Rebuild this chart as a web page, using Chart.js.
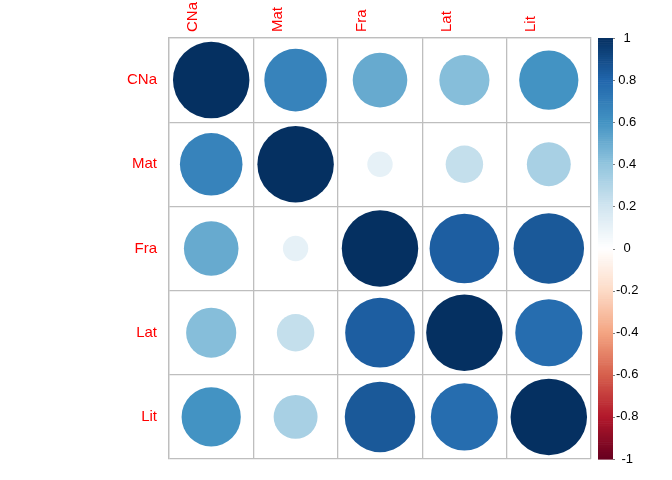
<!DOCTYPE html>
<html>
<head>
<meta charset="utf-8">
<script src="https://cdn.jsdelivr.net/npm/chart.js@4/dist/chart.umd.min.js"></script>
<style>
  html, body { margin: 0; padding: 0; background: #fff; }
</style>
</head>
<body>
<canvas id="corrPlot" width="672" height="480"></canvas>
<script>
/* --------------- Variables and correlations --------------------- */
const vars = ["CNa", "Mat", "Fra", "Lat", "Lit"];
const rowCNa = [1.00, 0.67, 0.51, 0.43, 0.60];
const rowMat = [0.67, 1.00, 0.11, 0.24, 0.33];
const rowFra = [0.51, 0.11, 1.00, 0.83, 0.85];
const rowLat = [0.43, 0.24, 0.83, 1.00, 0.77];
const rowLit = [0.60, 0.33, 0.85, 0.77, 1.00];
const corrRows = [rowCNa, rowMat, rowFra, rowLat, rowLit];
/* --------------- Colour legend ticks --------------------- */
const cbTicks = [-1, -0.8, -0.6, -0.4, -0.2, 0, 0.2, 0.4, 0.6, 0.8, 1];
/* --------------- RdBu palette (red = -1, blue = +1) --------------------- */
const rdbu = ["#67001F", "#B2182B", "#D6604D", "#F4A582", "#FDDBC7", "#FFFFFF",
              "#D1E5F0", "#92C5DE", "#4393C3", "#2166AC", "#053061"];

const hexToRgb = (h) => [1, 3, 5].map((i) => parseInt(h.substr(i, 2), 16));
const corrColor = (v) => {
  let t = (v + 1) / 2 * (rdbu.length - 1);
  let i = Math.min(Math.floor(t), rdbu.length - 2);
  let f = t - i;
  let a = hexToRgb(rdbu[i]), b = hexToRgb(rdbu[i + 1]);
  let c = a.map((x, k) => Math.round(x + (b[k] - x) * f));
  return `rgb(${c[0]},${c[1]},${c[2]})`;
};

const points = [];
corrRows.forEach((row, i) => {
  row.forEach((v, j) => points.push({ x: vars[j], y: vars[i], v: v }));
});

/* --------------- Layout --------------------- */
const FONT = "'Liberation Sans', Arial, Helvetica, sans-serif";
const GRID = "#BEBEBE";
const CANVAS_W = 672;
const LEFT_W = 169;   // row label axis
const RIGHT_W = 81;   // colour legend axis
const CELL = (CANVAS_W - LEFT_W - RIGHT_W) / vars.length;

/* --------------- Colour bar drawn next to the plot --------------------- */
const colorBar = {
  id: "colorBar",
  afterDraw(chart) {
    const s = chart.scales.cb;
    const ctx = chart.ctx;
    const x0 = chart.chartArea.right + 7;
    const w = 15;
    const n = 200;
    ctx.save();
    for (let k = 0; k < n; k++) {
      let v1 = 1 - (2 * k) / n;
      let v2 = 1 - (2 * (k + 1)) / n;
      let y1 = s.getPixelForValue(v1);
      let y2 = s.getPixelForValue(v2);
      ctx.fillStyle = corrColor((v1 + v2) / 2);
      ctx.fillRect(x0, y1, w, y2 - y1 + 0.6);
    }
    ctx.strokeStyle = "rgba(40,40,40,0.6)";
    ctx.lineWidth = 1;
    ctx.beginPath();
    cbTicks.forEach((v) => {
      let y = Math.round(s.getPixelForValue(v)) + 0.5;
      ctx.moveTo(x0 + w, y);
      ctx.lineTo(x0 + w + 2, y);
    });
    ctx.stroke();
    ctx.restore();
  },
};

/* --------------- Chart --------------------- */
new Chart(document.getElementById("corrPlot"), {
  type: "bubble",
  plugins: [colorBar],
  data: {
    datasets: [
      {
        data: points,
        xAxisID: "x",
        yAxisID: "y",
        clip: false,
        backgroundColor: (c) => (c.raw ? corrColor(c.raw.v) : "#ffffff"),
        borderWidth: 0,
        radius: (c) => (c.raw ? 0.453 * CELL * Math.sqrt(Math.abs(c.raw.v)) : 0),
      },
    ],
  },
  options: {
    responsive: false,
    devicePixelRatio: 1,
    animation: false,
    events: [],
    layout: { autoPadding: false, padding: { left: 0, right: 0, top: 0, bottom: 19 } },
    plugins: { legend: { display: false }, tooltip: { enabled: false } },
    scales: {
      x: {
        type: "category",
        labels: vars,
        position: "top",
        offset: true,
        grid: { offset: true, color: GRID, lineWidth: 1.3, drawTicks: false },
        border: { color: GRID, width: 1.3 },
        ticks: { color: "#FF0000", font: { family: FONT, size: 15 }, minRotation: 90, maxRotation: 90, padding: 6 },
        afterFit: (s) => { s.height = 38; },
      },
      y: {
        type: "category",
        labels: vars,
        position: "left",
        offset: true,
        grid: { offset: true, color: GRID, lineWidth: 1.3, drawTicks: false },
        border: { color: GRID, width: 1.3 },
        ticks: { color: "#FF0000", font: { family: FONT, size: 15 }, padding: 12 },
        afterFit: (s) => { s.width = LEFT_W; },
      },
      cb: {
        type: "linear",
        position: "right",
        min: -1,
        max: 1,
        grid: { display: false, drawTicks: false },
        border: { display: false },
        afterBuildTicks: (s) => { s.ticks = cbTicks.map((v) => ({ value: v })); },
        ticks: {
          color: "#000000",
          font: { family: FONT, size: 13 },
          crossAlign: "center",
          padding: 25,
          callback: (v) => String(Math.round(v * 10) / 10),
        },
        afterFit: (s) => {
          s.width = RIGHT_W;
          s.paddingTop = 0;
          s.paddingBottom = 0;
        },
      },
    },
  },
});
</script>
</body>
</html>
